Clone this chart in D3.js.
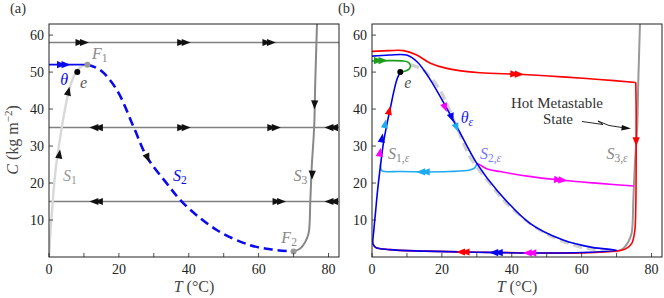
<!DOCTYPE html>
<html><head><meta charset="utf-8">
<script src="https://cdn.jsdelivr.net/npm/d3@7"></script>
<style>body{margin:0;background:#fff}svg{display:block}</style>
</head><body><svg id="c" width="664" height="298"></svg>
<script>
// ---------- data ----------
const xTicks=[0,20,40,60,80];
const xMinor=[10,30,50,70];
const yTicks=[10,20,30,40,50,60];
const hLevels=[58,35,15];
const S1=[[0,0],[0.5,8],[1,14],[1.5,20],[2.2,26],[3,31],[4,37],[5,42],[6,46],[7.5,49.6],[9,51.4],[11,52]];
const S2=[[11,52],[14.6,50.6],[19.4,45.2],[24.2,35.2],[28,27.1],[33.7,19.9],[38.5,14.5],[48,7.3],[57.6,3.2],[64,2],[70,1.5]];
const S3=[[70,1.5],[71.9,2.3],[73.3,4],[74.3,6.4],[74.8,15.4],[75.2,24.4],[75.9,35.2],[76.2,47],[76.7,63]];
const theta=[[0,52],[11,52]];
const F1=[11,52], F2=[70,1.5], ePt=[8.1,50];
// arrows panel a: [T, C, dT, dC, double]
const arrowsA=[[10.3,58,1,0,1],[39.4,58,1,0,1],[63.8,58,1,0,1],
 [12.7,35,-1,0,1],[39.4,35,1,0,1],[65.2,35,1,0,1],[80,35,-1,0,1],
 [12.7,15,-1,0,1],[66.7,15,1,0,1],[80,15,-1,0,1],
 [3,28,0.16,1,0],[5.6,45,0.25,1,0],[76,41,-0.03,-1,0],[75.3,22,-0.04,-1,0],[28.3,26.6,0.45,-1,0]];
const arrowsThetaA=[[5,52,1,0,1]];
// panel b series
const redTop=[[0,55.6],[5,55.8],[9,55.8],[12.8,54.6],[16.7,52.4],[21.4,51],[30.9,49.8],[42.3,49.4],[54.6,48.7],[65,48],[75.5,47.2]];
const redDown=[[75.5,47.2],[75.6,40],[75.6,25],[75.5,14],[75.2,7],[74.3,3.6],[72.6,2.2],[70,1.6],[60,1.1],[45,1.1],[30,1.3],[15,1.6],[5,2],[1,2.6],[0.3,3.5]];
const magentaB=[[30,25.3],[30.9,24.9],[33,23.8],[36.7,23.1],[45,21.8],[53.8,20.8],[65,19.9],[74.9,19.2]];
const cyanB=[[30,25.3],[29.4,24.1],[28,23.5],[22,23.1],[15.7,23],[8,23.1],[2.9,23.3],[2.5,24],[2.4,25]];
const greenB=[[0,53],[5,53.1],[9,53],[10.4,52.6],[11,51.7],[10.6,50.8],[9.6,50.3],[8.1,50]];
const blueB=[[0,54.3],[5,54.6],[9.9,54.6],[12.9,52.8],[16.7,47.9],[21.4,40.2],[24.8,34.3],[30,25.3],[35.7,18.1],[45.2,9.1],[54.7,4.6],[63,2.6],[70,1.8],[60,1.2],[45,1.1],[30,1.3],[15,1.6],[5,2],[1,2.6],[0.3,3.5],[0.5,7],[1,12],[1.6,18],[2.4,24.5],[3.3,31],[4.3,36],[5.3,40.5],[6.3,45],[7.2,48.2],[8.1,50]];
const arrowsB=[
 ["red",42.3,49.4,1,-0.05,1],["red",75.6,31,0,-1,0],["red",25.2,1.35,-1,0,1],["red",5,39.8,0.25,1,0],
 ["blue",34.7,1.2,-1,0,1],["blue",22.9,37.5,0.4,-1,0],["blue",2.9,32.3,0.18,1,0],
 ["magenta",44.3,1.1,-1,0,1],["magenta",54.8,20.7,1,-0.1,1],["magenta",21,40.2,0.4,-1,0],["magenta",2.3,28.5,0.16,1,0],
 ["cyan",13.8,23,-1,0,1],["cyan",24.3,34.8,0.45,-1,0],["cyan",3.8,36.2,0.2,1,0],
 ["green",3.3,53.1,1,0,1]];

// ---------- drawing ----------
const FONT='"Liberation Serif","Times New Roman",serif';
const svg=d3.select("#c");
const COL={red:"#ff0000",blue:"#0000ee",magenta:"#ff00ff",cyan:"#1eaaf0",green:"#1a9e1a"};
const yA=d3.scaleLinear([0,63],[257,24]);
const xA=d3.scaleLinear([0,83],[49,339]);
const xB=d3.scaleLinear([0,83],[372,662]);
function txt(g){return g.append("text").style("font-family",FONT);}

function frame(g,x,y,label,lx){
  const [x0,x1]=x.range(), [y0,y1]=y.range();
  xTicks.concat(xMinor).forEach(t=>g.append("line").attr("x1",x(t)).attr("x2",x(t)).attr("y1",y0).attr("y2",y0-4).attr("stroke","#222").attr("stroke-width",0.8));
  yTicks.forEach(t=>g.append("line").attr("x1",x0).attr("x2",x0+4).attr("y1",y(t)).attr("y2",y(t)).attr("stroke","#222").attr("stroke-width",0.8));
  xTicks.forEach(t=>txt(g).attr("x",x(t)).attr("y",y0+17).attr("text-anchor","middle").attr("font-size",14).attr("fill","#222").text(t));
  yTicks.forEach(t=>txt(g).attr("x",x0-5).attr("y",y(t)+4.5).attr("text-anchor","end").attr("font-size",14).attr("fill","#222").text(t));
  const tt=txt(g).attr("x",(x0+x1)/2).attr("y",292).attr("text-anchor","middle").attr("font-size",16).attr("fill","#444");
  tt.append("tspan").attr("font-style","italic").text("T");
  tt.append("tspan").text(" (°C)");
  txt(g).attr("x",lx).attr("y",13).attr("font-size",14.5).attr("fill","#333").text(label);
}
function box(g,x,y){
  const [x0,x1]=x.range(), [y0,y1]=y.range();
  g.append("rect").attr("x",x0).attr("y",y1).attr("width",x1-x0).attr("height",y0-y1).attr("fill","none").attr("stroke","#222").attr("stroke-width",1);
}
function path(g,x,y,data,color,w,dash,curve){
  const line=d3.line().x(d=>x(d[0])).y(d=>y(d[1])).curve(curve||d3.curveCatmullRom.alpha(0.5));
  const p=g.append("path").attr("d",line(data)).attr("fill","none").attr("stroke",color).attr("stroke-width",w).attr("stroke-linejoin","round");
  if(dash) p.attr("stroke-dasharray",dash);
  return p;
}
function arrow(g,x,y,t,c,dt,dc,dbl,color){
  const px=x(t),py=y(c);
  const ang=Math.atan2(y(c+dc)-py, x(t+dt)-px)*180/Math.PI;
  const a=g.append("g").attr("transform",`translate(${px},${py}) rotate(${ang})`);
  const tri="M4,0 L-5,-3.6 L-5,3.6 Z";
  a.append("path").attr("d",tri).attr("fill",color);
  if(dbl) a.append("path").attr("d",tri).attr("transform","translate(-4.5,0)").attr("fill",color);
}
function sub(g,xp,yp,main,subs,color,size){
  const t=txt(g).attr("x",xp).attr("y",yp).attr("font-size",size).attr("fill",color);
  t.append("tspan").attr("font-style","italic").text(main);
  subs.forEach((s,i)=>{
    const ts=t.append("tspan").attr("font-size",size*0.72).attr("font-style",s[1]?"italic":"normal").text(s[0]);
    if(i===0) ts.attr("dy",3);
  });
  return t;
}

// ----- panel a -----
const ga=svg.append("g");
svg.append("clipPath").attr("id","ca").append("rect").attr("x",49).attr("y",24).attr("width",290).attr("height",233);
const pa=ga.append("g").attr("clip-path","url(#ca)");
hLevels.forEach(h=>path(pa,xA,yA,[[0,h],[83,h]],"#808080",1.4,null,d3.curveLinear));
path(pa,xA,yA,S1,"#d8d8d8",2.4);
path(pa,xA,yA,S3,"#888",2);
path(pa,xA,yA,S2,"#0a0aee",2.6,"9,5");
path(pa,xA,yA,theta,"#0a0aee",1.8,null,d3.curveLinear);
arrowsA.forEach(a=>arrow(pa,xA,yA,a[0],a[1],a[2],a[3],a[4],"#111"));
arrowsThetaA.forEach(a=>arrow(pa,xA,yA,a[0],a[1],a[2],a[3],a[4],"#0a0aee"));
pa.append("circle").attr("cx",xA(F1[0])).attr("cy",yA(F1[1])).attr("r",3).attr("fill","#999");
pa.append("circle").attr("cx",xA(F2[0])).attr("cy",yA(F2[1])).attr("r",3).attr("fill","#999");
pa.append("circle").attr("cx",xA(ePt[0])).attr("cy",yA(ePt[1])).attr("r",3).attr("fill","#000");
box(ga,xA,yA);
frame(ga,xA,yA,"(a)",10);
sub(ga,xA(12.3),yA(53.6),"F",[["1"]],"#888",16);
sub(ga,xA(66.5),yA(3.7),"F",[["2"]],"#888",16);
txt(ga).attr("x",xA(8.9)).attr("y",yA(45.8)).attr("font-size",16).attr("font-style","italic").attr("fill","#555").text("e");
txt(ga).attr("x",xA(3.2)).attr("y",yA(46.6)).attr("font-size",16).attr("font-style","italic").attr("fill","#0a0aee").text("θ");
sub(ga,xA(4),yA(20.5),"S",[["1"]],"#999",16);
sub(ga,xA(35.5),yA(20.5),"S",[["2"]],"#0a0aee",16);
sub(ga,xA(70),yA(20.5),"S",[["3"]],"#888",16);
const yl=txt(ga).attr("transform","translate(18,140) rotate(-90)").attr("text-anchor","middle").attr("font-size",16).attr("fill","#444");
yl.append("tspan").attr("font-style","italic").text("C");
yl.append("tspan").text(" (kg m");
yl.append("tspan").attr("font-size",11).attr("dy",-6).text("−2");
yl.append("tspan").attr("dy",6).text(")");

// ----- panel b -----
const gb=svg.append("g");
svg.append("clipPath").attr("id","cb").append("rect").attr("x",372).attr("y",24).attr("width",290).attr("height",233);
const pb=gb.append("g").attr("clip-path","url(#cb)");
path(pb,xB,yA,S2,"#d0d0d0",3,"9,5");
path(pb,xB,yA,S3,"#999",2);
path(pb,xB,yA,redTop,COL.red,1.6);
path(pb,xB,yA,redDown,COL.red,1.6);
path(pb,xB,yA,magentaB,COL.magenta,1.6);
path(pb,xB,yA,cyanB,COL.cyan,1.6);
path(pb,xB,yA,greenB,COL.green,1.6);
path(pb,xB,yA,blueB,COL.blue,1.6);
arrowsB.forEach(a=>arrow(pb,xB,yA,a[1],a[2],a[3],a[4],a[5],COL[a[0]]));
pb.append("circle").attr("cx",xB(ePt[0])).attr("cy",yA(ePt[1])).attr("r",3).attr("fill","#000");
box(gb,xB,yA);
frame(gb,xB,yA,"(b)",338);
txt(gb).attr("x",xB(9.2)).attr("y",yA(45.8)).attr("font-size",16).attr("font-style","italic").attr("fill","#555").text("e");
sub(gb,xB(25.4),yA(36.2),"θ",[["ε",true]],"#2222ee",16);
sub(gb,xB(4.6),yA(26.6),"S",[["1,",false],["ε",true]],"#888",16);
sub(gb,xB(30.9),yA(26.6),"S",[["2,",false],["ε",true]],"#7a7aff",16);
sub(gb,xB(67.1),yA(26.6),"S",[["3,",false],["ε",true]],"#888",16);
txt(gb).attr("x",557).attr("y",108).attr("text-anchor","middle").attr("font-size",15).attr("fill","#333").text("Hot Metastable");
txt(gb).attr("x",558).attr("y",124).attr("text-anchor","middle").attr("font-size",15).attr("fill","#333").text("State");
gb.append("path").attr("d","M582,121.5 L603,124.5 L598,121 L609,125.5 L624,127.8").attr("fill","none").attr("stroke","#111").attr("stroke-width",0.9);
gb.append("path").attr("d","M631,128.6 L622,125 L621.2,130.6 Z").attr("fill","#111");
</script></body></html>
